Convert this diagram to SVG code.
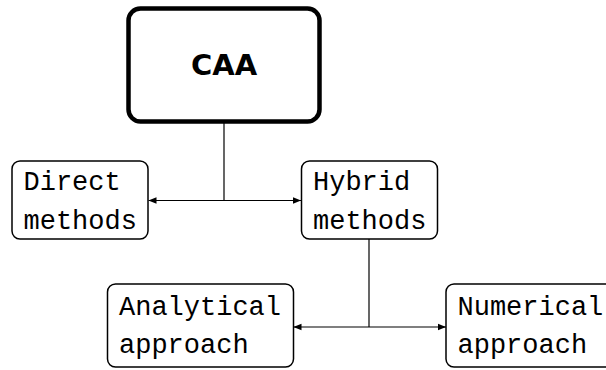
<svg xmlns="http://www.w3.org/2000/svg" width="606" height="370" viewBox="0 0 606 370">
<style>
.box{fill:#fff;stroke:#000;stroke-width:1.5}
.main{fill:#fff;stroke:#000;stroke-width:4.5}
.t{font-family:"Liberation Mono","DejaVu Sans Mono",monospace;font-size:27px;fill:#000}
.title{font-family:"DejaVu Sans",sans-serif;font-weight:bold;font-size:29px;fill:#000;text-anchor:middle}
.c{fill:none;stroke:#000;stroke-width:1.2}
</style>
<defs>
<marker id="ah" viewBox="0 0 10 10" refX="10" refY="5" markerWidth="8" markerHeight="8" markerUnits="userSpaceOnUse" orient="auto">
<path d="M0,1 L10,5 L0,9 Z" fill="#000"/>
</marker>
</defs>
<g id="connectors">
<path class="c" d="M224,123 V200.5"/>
<path class="c" d="M224,200.5 H148.5" marker-end="url(#ah)"/>
<path class="c" d="M224,200.5 H301" marker-end="url(#ah)"/>
<path class="c" d="M369,239 V327"/>
<path class="c" d="M369,327 H293.5" marker-end="url(#ah)"/>
<path class="c" d="M369,327 H446" marker-end="url(#ah)"/>
</g>
<g id="caa">
<rect class="main" x="128.5" y="8.5" width="191" height="113" rx="12"/>
<text class="title" x="224" y="75">CAA</text>
</g>
<g id="direct">
<rect class="box" x="12" y="161" width="136" height="78" rx="8"/>
<text class="t" x="23.5" y="190">Direct</text>
<text class="t" x="23.5" y="228.5">methods</text>
</g>
<g id="hybrid">
<rect class="box" x="301.5" y="161" width="136" height="78" rx="8"/>
<text class="t" x="313" y="190">Hybrid</text>
<text class="t" x="313" y="228.5">methods</text>
</g>
<g id="analytical">
<rect class="box" x="107.5" y="284" width="186" height="83" rx="8"/>
<text class="t" x="119" y="315">Analytical</text>
<text class="t" x="119" y="353">approach</text>
</g>
<g id="numerical">
<rect class="box" x="446" y="284" width="170" height="83" rx="8"/>
<text class="t" x="457.5" y="315">Numerical</text>
<text class="t" x="457.5" y="353">approach</text>
</g>
</svg>
